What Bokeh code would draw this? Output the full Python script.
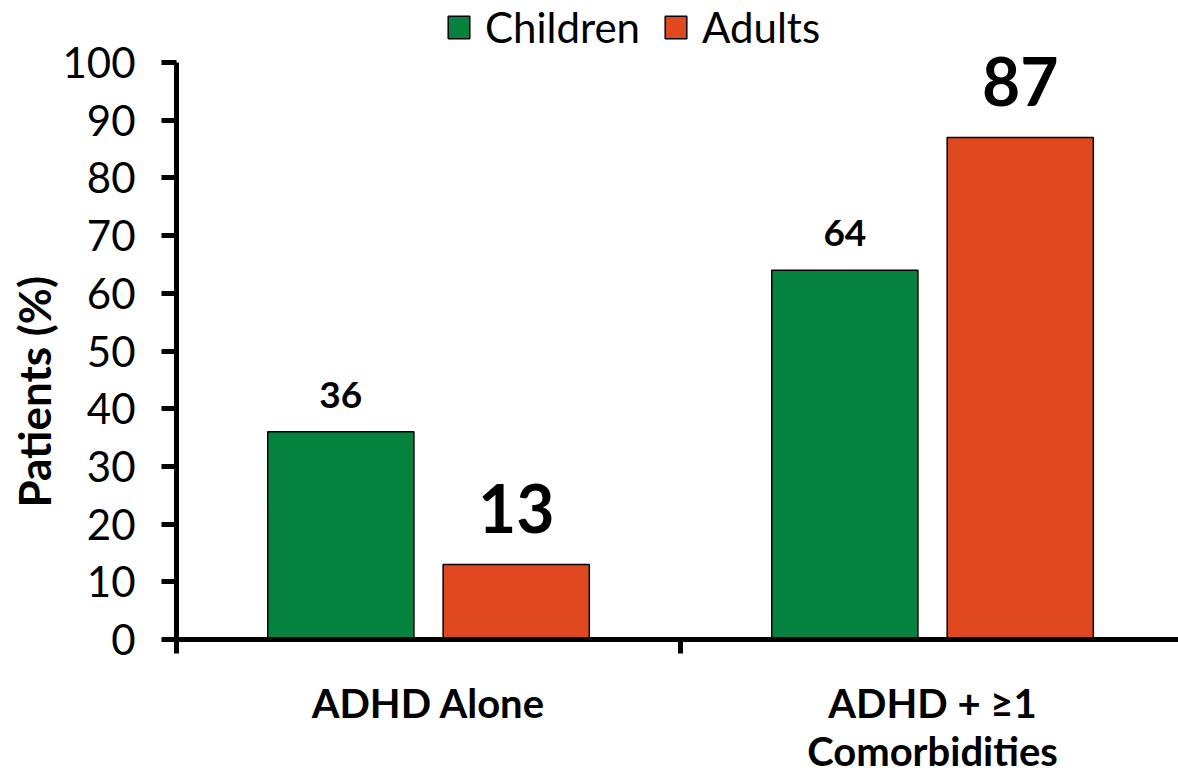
from bokeh.core.properties import value
from bokeh.embed import file_html
from bokeh.models import (ColumnDataSource, FixedTicker, Legend, LegendItem,
                          Range1d, Title)
from bokeh.plotting import figure
from bokeh.resources import INLINE
from bokeh.transform import dodge

# Data
categories = ["ADHD Alone", "ADHD + \u22651\nComorbidities"]
children = [36, 64]
adults = [13, 87]
y_ticks = [0, 10, 20, 30, 40, 50, 60, 70, 80, 90, 100]

GREEN = "#05823D"
ORANGE = "#E0491F"
FONT = "Lato"

# one unit per category on a numeric axis; bars sit around each category centre
x_pos = [i + 0.5 for i in range(len(categories))]
boundaries = list(range(len(categories) + 1))

src = ColumnDataSource(dict(
    x=x_pos,
    children=children,
    adults=adults,
    children_lbl=[str(v) for v in children],
    adults_lbl=[str(v) for v in adults],
))

p = figure(width=1178, height=778, output_backend="svg", toolbar_location=None,
           x_range=Range1d(0, 1.988), y_range=Range1d(0, 110.75),
           min_border_left=176, min_border_right=0,
           min_border_top=0, min_border_bottom=139)
p.outline_line_color = None
p.xgrid.visible = False
p.ygrid.visible = False
p.background_fill_color = "white"

OFF = 0.174
BAR_W = 0.29

r_child = p.vbar(x=dodge("x", -OFF, range=p.x_range), top="children", bottom=0,
                 width=BAR_W, source=src, fill_color=GREEN,
                 line_color="black", line_width=1.5)
r_adult = p.vbar(x=dodge("x", OFF, range=p.x_range), top="adults", bottom=0,
                 width=BAR_W, source=src, fill_color=ORANGE,
                 line_color="black", line_width=1.5)

# value labels above the bars
p.text(x=dodge("x", -OFF, range=p.x_range), y="children", text="children_lbl",
       source=src, text_align="center", text_baseline="alphabetic",
       y_offset=-37, text_font=value(FONT), text_font_style="bold",
       text_font_size="37px", text_color="black")
p.text(x=dodge("x", OFF, range=p.x_range), y="adults", text="adults_lbl",
       source=src, text_align="center", text_baseline="alphabetic",
       y_offset=-56, text_font=value(FONT), text_font_style="bold",
       text_font_size="66px", text_color="black")

# x axis: category names centred, ticks on the category boundaries
xa = p.xaxis[0]
xa.ticker = FixedTicker(ticks=x_pos, minor_ticks=boundaries)
xa.major_label_overrides = {x: c for x, c in zip(x_pos, categories)}
xa.major_tick_line_color = None
xa.major_tick_in = 0
xa.major_tick_out = 14
xa.minor_tick_in = 0
xa.minor_tick_out = 14
xa.minor_tick_line_width = 5
xa.minor_tick_line_color = "black"
xa.axis_line_width = 5
xa.axis_line_color = "black"
xa.major_label_text_font = FONT
xa.major_label_text_font_style = "bold"
xa.major_label_text_font_size = "40px"
xa.major_label_text_line_height = 1.0
xa.major_label_text_color = "black"
xa.major_label_standoff = 25

# y axis
ya = p.yaxis[0]
ya.ticker = FixedTicker(ticks=y_ticks)
ya.bounds = (0, 100)
ya.major_tick_in = 0
ya.major_tick_out = 15
ya.major_tick_line_width = 5
ya.major_tick_line_color = "black"
ya.minor_tick_line_color = None
ya.axis_line_width = 5
ya.axis_line_color = "black"
ya.major_label_text_font = FONT
ya.major_label_text_font_size = "42px"
ya.major_label_text_color = "black"
ya.major_label_standoff = 26

# rotated y title, anchored from the bottom of the frame
p.add_layout(Title(text="Patients (%)", align="left", offset=132, standoff=0,
                   text_font=FONT, text_font_style="bold",
                   text_font_size="44px", text_color="black"), "left")

legend = Legend(
    items=[LegendItem(label=value("Children"), renderers=[r_child]),
           LegendItem(label=value("Adults"), renderers=[r_adult])],
    orientation="horizontal", location=(269, 587),
    glyph_width=27, glyph_height=28, label_standoff=13, spacing=22,
    padding=0, margin=0, border_line_color=None, background_fill_alpha=0,
    label_text_font=FONT, label_text_font_size="42px", label_text_color="black",
)
p.add_layout(legend)

open("out.html", "w").write(file_html(p, INLINE))
